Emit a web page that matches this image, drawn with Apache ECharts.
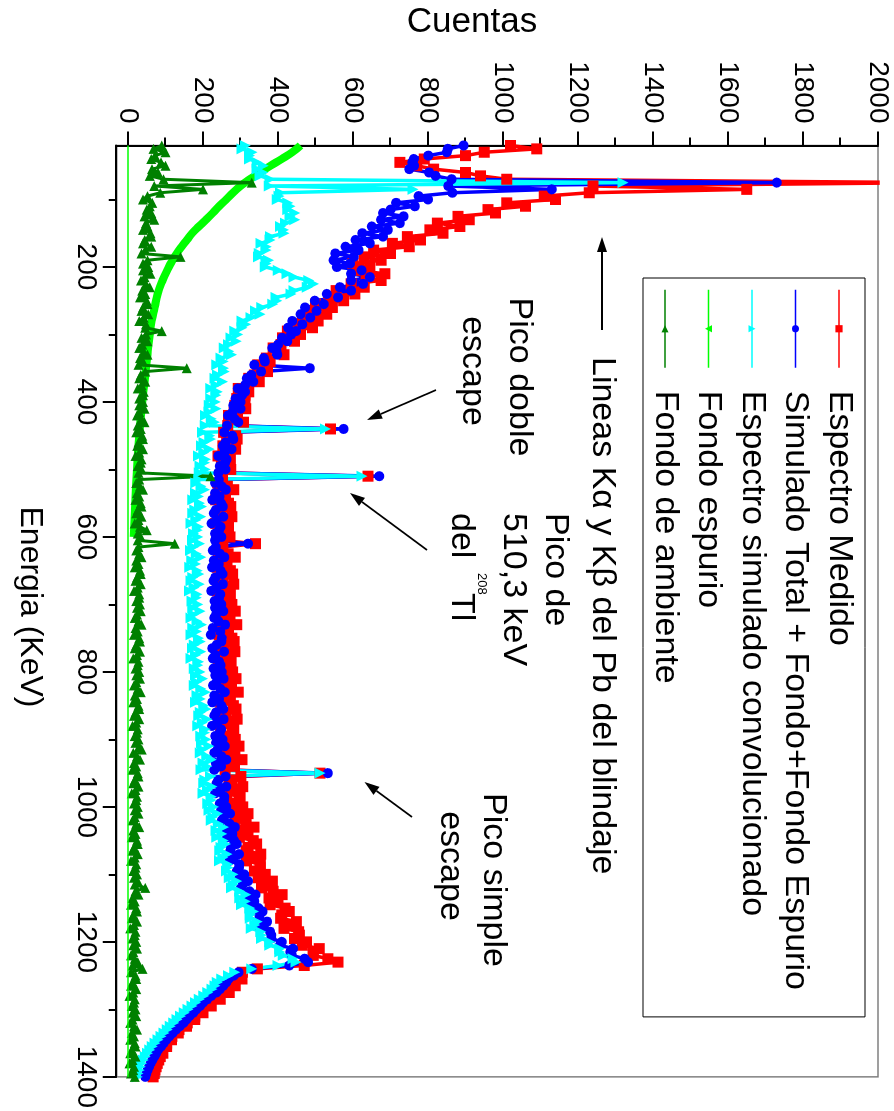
<!DOCTYPE html>
<html><head><meta charset="utf-8">
<script src="https://cdn.jsdelivr.net/npm/echarts@6/dist/echarts.min.js"></script>
<style>
html,body{margin:0;padding:0;background:#fff;overflow:hidden;width:894px;height:1111px;}
#chart{position:absolute;left:0;top:0;width:1111px;height:894px;transform-origin:0 0;transform:translate(894px,0) rotate(90deg);}
</style></head><body><div id="chart"></div>
<script>
// ---- data (energy in keV, counts) ----
const energias = [
20,25,30,35,40,45,50,55,60,65,70,75,80,85,90,95,100,105,110,115,
120,125,130,135,140,145,150,155,160,165,170,175,180,185,190,195,200,205,210,215,
220,225,230,235,240,245,250,255,260,265,270,275,280,285,290,295,300,305,310,315,
320,325,330,335,340,345,350,355,360,365,370,375,380,385,390,395,400,405,410,415,
420,425,430,435,440,445,450,455,460,465,470,475,480,485,490,495,500,505,510,515,
520,525,530,535,540,545,550,555,560,565,570,575,580,585,590,595,600,605,610,615,
620,625,630,635,640,645,650,655,660,665,670,675,680,685,690,695,700,705,710,715,
720,725,730,735,740,745,750,755,760,765,770,775,780,785,790,795,800,805,810,815,
820,825,830,835,840,845,850,855,860,865,870,875,880,885,890,895,900,905,910,915,
920,925,930,935,940,945,950,955,960,965,970,975,980,985,990,995,1000,1005,1010,1015,
1020,1025,1030,1035,1040,1045,1050,1055,1060,1065,1070,1075,1080,1085,1090,1095,1100,1105,1110,1115,
1120,1125,1130,1135,1140,1145,1150,1155,1160,1165,1170,1175,1180,1185,1190,1195,1200,1205,1210,1215,
1220,1225,1230,1235,1240,1245,1250,1255,1260,1265,1270,1275,1280,1285,1290,1295,1300,1305,1310,1315,
1320,1325,1330,1335,1340,1345,1350,1355,1360,1365,1370,1375,1380,1385,1390,1395,1400];

const espectroMedido = [
1020,1090,950,900,790,725,770,815,900,940,1010,2150,1240,1650,1230,1110,1140,1010,1060,960,
980,880,910,825,885,805,840,745,780,705,750,655,700,630,675,600,645,605,685,635,
675,595,630,555,605,535,575,500,545,485,530,465,507,447,492,425,460,412,444,408,
387,406,416,369,379,346,372,372,337,322,350,321,294,322,312,290,312,285,314,283,
268,292,308,266,540,255,287,291,263,253,287,262,240,273,268,249,274,249,640,252,
239,265,282,242,260,234,268,274,248,241,277,253,234,268,264,246,272,248,340,253,
241,267,286,246,264,238,273,279,253,246,282,258,238,273,269,251,277,254,286,258,
246,272,290,250,268,243,277,283,257,249,285,261,241,275,271,253,279,256,288,261,
249,276,294,254,273,247,281,288,262,254,291,267,247,282,278,260,286,263,296,269,
258,285,304,265,284,259,512,301,276,269,306,283,264,299,296,279,306,285,320,295,
286,315,336,299,320,297,334,343,320,315,354,333,316,353,352,337,366,347,385,362,
356,387,411,376,400,379,419,430,410,407,449,430,416,455,457,444,476,465,510,494,
494,533,560,470,345,305,296,304,276,286,256,270,238,246,218,222,196,200,178,178,
158,156,136,134,117,116,103,103,92,93,86,82,78,75,72,70,67];

const simuladoTotal = [
895,853,850,801,762,758,763,750,803,820,863,1730,854,1130,865,775,800,715,765,700,
680,735,675,725,650,693,625,680,607,645,580,615,553,602,548,592,557,623,595,645,
595,627,565,595,530,560,498,522,472,503,460,486,438,465,427,448,435,411,425,400,
385,396,398,362,365,337,485,355,329,317,334,312,293,312,304,287,300,281,300,279,
267,284,294,264,575,257,278,281,260,253,276,257,241,263,259,245,260,241,670,242,
232,250,261,232,244,225,248,253,234,229,254,237,223,247,243,232,249,232,320,234,
226,245,257,229,242,224,247,252,233,228,253,236,222,246,243,231,249,232,254,235,
230,241,259,226,246,221,250,249,236,225,256,233,226,243,247,228,250,233,255,236,
227,246,258,230,243,225,249,254,235,230,255,238,224,248,245,233,252,235,258,239,
230,249,262,234,248,230,533,260,241,236,262,246,232,257,256,245,262,248,272,256,
250,271,285,263,278,264,283,290,275,273,296,283,270,297,296,290,310,297,320,306,
301,324,340,320,337,326,348,359,350,351,371,363,353,379,382,382,410,405,440,433,
437,471,480,430,330,295,282,268,262,254,245,236,222,211,200,192,182,174,164,156,
148,138,128,119,110,102,95,88,80,75,70,65,60,56,52,49,46];

const simuladoConvolucionado = [
313,304,331,324,324,345,361,344,360,352,379,1320,377,760,407,403,398,426,432,426,
445,432,445,420,407,415,416,380,379,355,369,368,350,348,375,368,366,401,424,443,
482,495,478,443,435,395,397,386,357,340,352,328,304,314,304,285,293,275,289,268,
257,269,276,248,254,237,255,257,239,232,252,235,221,238,234,221,233,217,235,216,
207,222,231,206,527,199,218,220,203,196,217,202,188,207,204,192,206,190,624,189,
181,195,204,180,188,173,191,196,178,173,194,181,168,188,185,175,186,172,191,174,
167,182,194,170,180,165,185,189,173,168,190,176,164,184,182,171,186,173,192,175,
168,184,196,173,183,168,188,193,177,172,194,180,168,188,186,177,192,180,199,183,
177,194,206,184,193,180,202,208,193,189,211,198,186,206,204,194,208,196,216,199,
193,210,222,200,210,195,512,220,205,202,224,212,200,222,222,213,228,216,239,226,
222,241,255,235,250,237,254,260,248,245,264,253,244,266,267,263,280,270,290,280,
276,298,314,298,313,303,325,335,326,326,345,338,329,354,356,356,378,378,405,405,
414,440,448,400,330,285,268,250,238,232,224,213,202,190,180,171,160,150,140,131,
122,113,105,96,88,80,72,65,58,52,46,41,36,33,30,27,25];

const fondoAmbiente = [
90,68,100,72,62,88,100,64,80,58,95,330,70,200,86,52,40,65,58,50,
62,44,70,48,52,40,60,62,45,40,62,46,36,140,52,40,54,40,60,44,
35,48,58,38,46,32,50,52,40,36,54,42,30,48,46,90,48,36,52,38,
30,42,52,32,40,28,157,46,34,30,46,36,26,42,40,30,40,30,44,30,
24,36,44,26,34,22,38,40,28,25,40,30,20,36,34,26,36,28,220,30,
22,32,40,24,30,20,34,36,26,22,36,28,18,32,50,26,34,26,125,28,
22,30,36,22,28,18,32,34,24,20,34,26,16,30,30,22,32,24,34,24,
18,28,36,20,26,16,30,32,22,18,32,24,14,28,26,20,30,22,32,22,
16,26,34,18,24,14,28,30,20,16,30,22,12,26,24,18,28,20,30,37,
14,24,32,16,22,12,26,28,18,14,28,20,10,24,22,16,26,18,28,18,
12,22,30,14,20,10,24,26,16,12,26,18,8,22,20,14,24,16,26,18,
46,20,28,12,18,8,22,24,14,10,24,16,6,20,18,12,22,14,24,14,
8,18,26,12,39,8,20,22,12,8,22,14,4,18,16,10,20,12,22,12,
6,16,24,10,16,6,18,20,10,6,20,12,4,16,14,8,18];

const espurioE = [20,30,40,50,60,70,80,90,100,110,120,130,140,150,160,170,180,190,200,220,240,260,280,300,330,360,400,450,500,550,600];
const fondoEspurio = [460,438,410,380,352,325,300,280,262,243,226,208,189,171,157,143,130,119,109,92,79,71,63,58,52,46,38,30,24,19,15];

const etiquetasEnergia = [200,400,600,800,1000,1200,1400];
const ticksMenoresEnergia = [100,300,500,700,900,1100,1300];
const etiquetasCuentas = [0,200,400,600,800,1000,1200,1400,1600,1800,2000];
const ticksMenoresCuentas = [100,300,500,700,900,1100,1300,1500,1700,1900];

const nombres = ['Espectro Medido','Simulado Total + Fondo+Fondo Espurio','Espectro simulado convolucionado','Fondo espurio','Fondo de ambiente'];

// ---- chart ----
const FONT = '"Liberation Sans", Arial, Helvetica, sans-serif';
const pares = (e, v) => e.map((x, i) => [x, v[i]]);

function serie(name, vals, color, symbol, size, rot, lw) {
  return {
    type: 'line', name, data: pares(energias, vals),
    symbol, symbolSize: size, symbolRotate: rot || 0,
    showSymbol: true, showAllSymbol: true, clip: true, animation: false,
    lineStyle: { color, width: lw }, itemStyle: { color }
  };
}

function flecha(x1, y1, x2, y2) {
  const a = Math.atan2(y2 - y1, x2 - x1), L = 15, W = 5;
  const bx = x2 - L * Math.cos(a), by = y2 - L * Math.sin(a);
  return [
    { type: 'line', shape: { x1, y1, x2: bx, y2: by }, style: { stroke: '#000', lineWidth: 1.8 } },
    { type: 'polygon', shape: { points: [[x2, y2], [bx + W * Math.sin(a), by - W * Math.cos(a)], [bx - W * Math.sin(a), by + W * Math.cos(a)]] }, style: { fill: '#000' } }
  ];
}
function texto(t, x, y, size, align, extra) {
  return Object.assign({ type: 'text', x, y, style: { text: t, fontSize: size, fontFamily: FONT, fill: '#000',
    align: align, textAlign: align, verticalAlign: 'middle', textVerticalAlign: 'middle' } }, extra || {});
}

const chart = echarts.init(document.getElementById('chart'), null, { renderer: 'canvas', width: 1111, height: 894 });

const tickStyle = { color: '#000', width: 2 };
const simple = v => String(v);
chart.setOption({
  backgroundColor: '#fff',
  animation: false,
  grid: { left: 145.5, right: 34, top: 16, bottom: 116.75, show: true, borderColor: '#808080', borderWidth: 1.5 },
  xAxis: [
    { type: 'value', min: 20, max: 1400, position: 'bottom',
      axisLine: { show: true, onZero: false, lineStyle: tickStyle },
      axisTick: { show: true, inside: false, length: 14, lineStyle: tickStyle, customValues: etiquetasEnergia },
      axisLabel: { show: true, customValues: etiquetasEnergia, formatter: simple, fontSize: 28, fontFamily: FONT, color: '#000', margin: 17 },
      splitLine: { show: false } },
    { type: 'value', min: 20, max: 1400, position: 'bottom',
      axisLine: { show: false, onZero: false },
      axisTick: { show: true, inside: false, length: 8, lineStyle: tickStyle, customValues: ticksMenoresEnergia },
      axisLabel: { show: false }, splitLine: { show: false } }
  ],
  yAxis: [
    { type: 'value', min: -30, max: 2000, position: 'left',
      axisLine: { show: true, onZero: false, lineStyle: tickStyle },
      axisTick: { show: true, inside: false, length: 14, lineStyle: tickStyle, customValues: etiquetasCuentas },
      axisLabel: { show: true, customValues: etiquetasCuentas, formatter: simple, fontSize: 28, fontFamily: FONT, color: '#000', margin: 22 },
      splitLine: { show: false } },
    { type: 'value', min: -30, max: 2000, position: 'left',
      axisLine: { show: false, onZero: false },
      axisTick: { show: true, inside: false, length: 8, lineStyle: tickStyle, customValues: ticksMenoresCuentas },
      axisLabel: { show: false }, splitLine: { show: false } }
  ],
  legend: {
    show: true, orient: 'vertical', left: 278, top: 29, padding: [9, 27, 5, 11],
    itemWidth: 78, itemHeight: 9, itemGap: 9.5,
    borderColor: '#000', borderWidth: 1, backgroundColor: '#fff',
    textStyle: { fontSize: 34, fontFamily: FONT, color: '#000', lineHeight: 34, padding: [0, 0, 0, 18] },
    lineStyle: { width: 1.5 },
    data: nombres
  },
  series: [
    serie(nombres[0], espectroMedido, '#ff0000', 'rect', 11, 0, 3.5),
    serie(nombres[1], simuladoTotal, '#0000ff', 'circle', 10, 0, 3.5),
    serie(nombres[2], simuladoConvolucionado, '#00ffff', 'triangle', 11, 0, 3.5),
    { type: 'line', name: nombres[3], data: pares(espurioE, fondoEspurio), smooth: true,
      symbol: 'triangle', symbolRotate: 180, symbolSize: 8, showSymbol: false, clip: true, animation: false,
      lineStyle: { color: '#00ff00', width: 8 }, itemStyle: { color: '#00ff00' },
      markLine: { silent: true, symbol: 'none', animation: false, label: { show: false },
        lineStyle: { color: '#00ff00', width: 1.5, type: 'solid' }, data: [{ yAxis: 0 }] } },
    serie(nombres[4], fondoAmbiente, '#008000', 'triangle', 10, 90, 3)
  ],
  graphic: [].concat(
    [ texto('Cuentas', 22.5, 422, 35, 'center', { rotation: Math.PI / 2 }),
      texto('Energia (KeV)', 607, 864, 32, 'center'),
      texto('Lineas Kα y Kβ del Pb del blindaje', 357, 292, 34, 'left'),
      texto('Pico doble', 377, 375, 34, 'center'),
      texto('escape', 371, 422, 34, 'center'),
      texto('Pico de', 513, 339, 34, 'left'),
      texto('510,3 keV', 513, 381, 34, 'left'),
      texto('del', 513, 433, 34, 'left'),
      texto('208', 573, 412, 13, 'left'),
      texto('Tl', 593, 433, 34, 'left'),
      texto('Pico simple', 880, 401, 34, 'center'),
      texto('escape', 866, 444, 34, 'center') ],
    flecha(330, 292, 237, 292),
    flecha(390, 458, 420, 527),
    flecha(550, 467, 493, 544),
    flecha(817, 482, 782, 529.5)
  )
});
</script></body></html>
